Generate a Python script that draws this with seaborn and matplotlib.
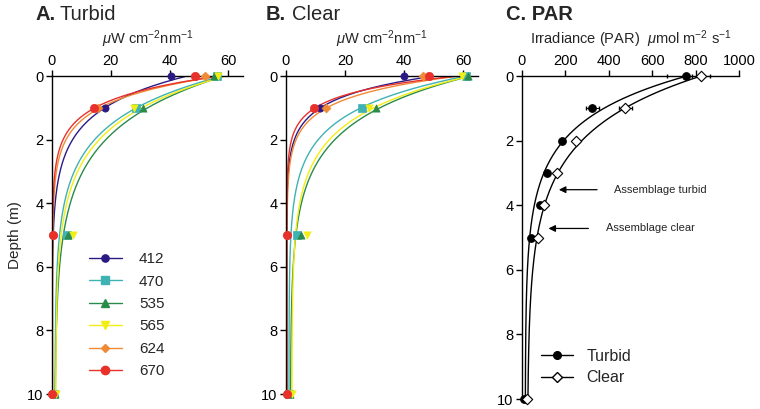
import numpy as np
import pandas as pd
import matplotlib
matplotlib.use("Agg")
import matplotlib.pyplot as plt
from matplotlib.lines import Line2D
import seaborn as sns

sns.set_style("ticks")
plt.rcParams['font.family'] = ['Liberation Sans', 'DejaVu Sans']
plt.rcParams['mathtext.fontset'] = 'custom'
plt.rcParams['mathtext.rm'] = 'Liberation Sans'
plt.rcParams['mathtext.it'] = 'Liberation Sans:italic'

# ---------------- data ----------------
wavelengths = ["412", "470", "535", "565", "624", "670"]
colors = ["#2b1a84", "#3fb2b4", "#2a8a4a", "#f2ee14", "#f08a36", "#e8312b"]
markers = ["o", "s", "^", "v", "D", "o"]
msizes = [5.2, 5.2, 5.2, 5.2, 4.5, 6.0]
depths = [0, 1, 5, 10]

# measured spectral irradiance (uW cm-2 nm-1) at depths 0,1,5,10 m
turbid_vals = {
    "412": [40.5, 17.9, 0.2, 0.1],
    "470": [56.0, 28.5, 5.0, 0.8],
    "535": [55.0, 31.0, 5.5, 1.0],
    "565": [56.5, 28.0, 7.0, 1.2],
    "624": [52.0, 15.8, 0.4, 0.2],
    "670": [48.8, 14.4, 0.3, 0.1],
}
clear_vals = {
    "412": [40.0, 11.5, 0.3, 0.2],
    "470": [61.0, 25.7, 3.7, 1.0],
    "535": [61.5, 30.5, 5.0, 1.5],
    "565": [59.5, 28.0, 7.0, 2.0],
    "624": [46.5, 13.5, 0.5, 0.3],
    "670": [48.5, 9.6, 0.4, 0.3],
}
# exponential fit parameters (a, Kd, offset)
turbid_fit = {
    "412": (46.0, 0.94, 0.0),
    "470": (57.0, 0.72, 1.0),
    "535": (57.5, 0.60, 1.0),
    "565": (58.0, 0.68, 1.2),
    "624": (57.0, 1.26, 0.2),
    "670": (57.0, 1.37, 0.1),
}
clear_fit = {
    "412": (50.0, 1.47, 0.2),
    "470": (60.0, 0.90, 1.0),
    "535": (61.0, 0.70, 1.5),
    "565": (60.5, 0.78, 2.0),
    "624": (58.0, 1.46, 0.3),
    "670": (58.0, 1.80, 0.3),
}

par_depths = [0, 1, 2, 3, 4, 5, 10]
par_turbid = [755, 323, 184, 115, 83, 42, 10]
par_turbid_err = [85, 30, 10, 10, 8, 8, 5]
par_clear = [825, 475, 250, 160, 103, 75, 22]
par_clear_err = [40, 30, 10, 10, 8, 8, 5]
par_fit_turbid = (745.0, 0.72, 15.0)
par_fit_clear = (800.0, 0.58, 25.0)

# ---------------- figure ----------------
fig = plt.figure(figsize=(7.6, 4.09), dpi=100)
W, H = 760, 409

def add_axes(x0, x1, ytop, ybot):
    return fig.add_axes([x0 / W, 1 - ybot / H, (x1 - x0) / W, (ybot - ytop) / H])

axA = add_axes(52, 243, 76, 394)
axB = add_axes(286, 478, 76, 394)
axC = add_axes(522, 739, 76, 399)

zgrid = np.linspace(0, 10, 201)

def style_axis(ax, xlim, xticks):
    ax.set_xlim(*xlim)
    ax.set_ylim(10, 0)
    ax.xaxis.tick_top()
    ax.xaxis.set_label_position("top")
    for s in ["right", "bottom"]:
        ax.spines[s].set_visible(False)
    for s in ["top", "left"]:
        ax.spines[s].set_linewidth(1.0)
        ax.spines[s].set_color("black")
    ax.set_xticks(xticks)
    ax.set_yticks([0, 2, 4, 6, 8, 10])
    ax.tick_params(axis="both", labelsize=10.5, length=4, width=1, pad=2,
                   colors="black", direction="out")
    ax.set_xlabel("")
    ax.set_ylabel("")

def spectral_panel(ax, vals, fits):
    for wl, c, m, ms in zip(wavelengths, colors, markers, msizes):
        a, k, off = fits[wl]
        curve = pd.DataFrame({"depth": zgrid, "irr": a * np.exp(-k * zgrid) + off})
        sns.lineplot(data=curve, x="irr", y="depth", orient="y", sort=False,
                     color=c, lw=1.0, ax=ax, estimator=None)
        pts = pd.DataFrame({"depth": depths, "irr": vals[wl]})
        sns.scatterplot(data=pts, x="irr", y="depth", marker=m, color=c,
                        s=ms ** 2, edgecolor=c, linewidth=0.5, ax=ax,
                        clip_on=False, zorder=5)

spectral_panel(axA, turbid_vals, turbid_fit)
spectral_panel(axB, clear_vals, clear_fit)
style_axis(axA, (0, 65), [0, 20, 40, 60])
style_axis(axB, (0, 65), [0, 20, 40, 60])

for ax in (axA, axB):
    ax.set_xlabel(r"$\mu$W cm$^{-2}$nm$^{-1}$", fontsize=10.5, labelpad=7)

axA.set_ylabel("Depth (m)", fontsize=11, labelpad=4)

# legend A
handles = [Line2D([0], [0], color=c, marker=m, markersize=ms, lw=1.0,
                  markeredgecolor=c) for c, m, ms in zip(colors, markers, msizes)]
axA.legend(handles, wavelengths, loc="upper left", bbox_to_anchor=(0.16, 0.465),
           frameon=False, fontsize=11, handlelength=2.2, labelspacing=0.55,
           handletextpad=1.1, borderaxespad=0)

# panel C
for vals, errs, fit, mk, fc, lab in [
        (par_turbid, par_turbid_err, par_fit_turbid, "o", "black", "Turbid"),
        (par_clear, par_clear_err, par_fit_clear, "D", "white", "Clear")]:
    a, k, off = fit
    curve = pd.DataFrame({"depth": zgrid, "par": a * np.exp(-k * zgrid) + off})
    sns.lineplot(data=curve, x="par", y="depth", orient="y", sort=False,
                 color="black", lw=1.0, ax=axC, estimator=None)
    axC.errorbar(vals, par_depths, xerr=errs, fmt="none", ecolor="black",
                 elinewidth=0.7, capsize=1.5, zorder=4, clip_on=False)
    pts = pd.DataFrame({"depth": par_depths, "par": vals})
    sns.scatterplot(data=pts, x="par", y="depth", marker=mk, color=fc,
                    edgecolor="black", linewidth=0.8, s=30 if mk == "o" else 28,
                    ax=axC, clip_on=False, zorder=5)

style_axis(axC, (0, 1000), [0, 200, 400, 600, 800, 1000])
axC.set_xlabel(r"Irradiance (PAR)  $\mu$mol m$^{-2}$ s$^{-1}$", fontsize=10.5, labelpad=7)

hC = [Line2D([0], [0], color="black", marker="o", markersize=5.5, lw=1.0,
             markerfacecolor="black"),
      Line2D([0], [0], color="black", marker="D", markersize=5.5, lw=1.0,
             markerfacecolor="white")]
axC.legend(hC, ["Turbid", "Clear"], loc="upper left", bbox_to_anchor=(0.06, 0.175),
           frameon=False, fontsize=11.5, handlelength=2.0, labelspacing=0.4,
           handletextpad=0.8, borderaxespad=0)

axC.annotate("Assemblage turbid", xy=(170, 3.52), xytext=(425, 3.52),
             fontsize=8, va="center", ha="left",
             arrowprops=dict(arrowstyle="-|>", color="black", lw=0.9,
                             shrinkA=10, shrinkB=0, mutation_scale=10))
axC.annotate("Assemblage clear", xy=(122, 4.72), xytext=(385, 4.72),
             fontsize=8, va="center", ha="left",
             arrowprops=dict(arrowstyle="-|>", color="black", lw=0.9,
                             shrinkA=10, shrinkB=0, mutation_scale=10))

# panel titles
fig.text(36 / W, 1 - 15 / H, "A.", fontsize=14.5, fontweight="bold", va="center", ha="left")
fig.text(60 / W, 1 - 15 / H, "Turbid", fontsize=14.5, va="center", ha="left")
fig.text(266 / W, 1 - 15 / H, "B.", fontsize=14.5, fontweight="bold", va="center", ha="left")
fig.text(292 / W, 1 - 15 / H, "Clear", fontsize=14.5, va="center", ha="left")
fig.text(506 / W, 1 - 15 / H, "C. PAR", fontsize=14.5, fontweight="bold", va="center", ha="left")

fig.savefig("out.png", dpi=100)
